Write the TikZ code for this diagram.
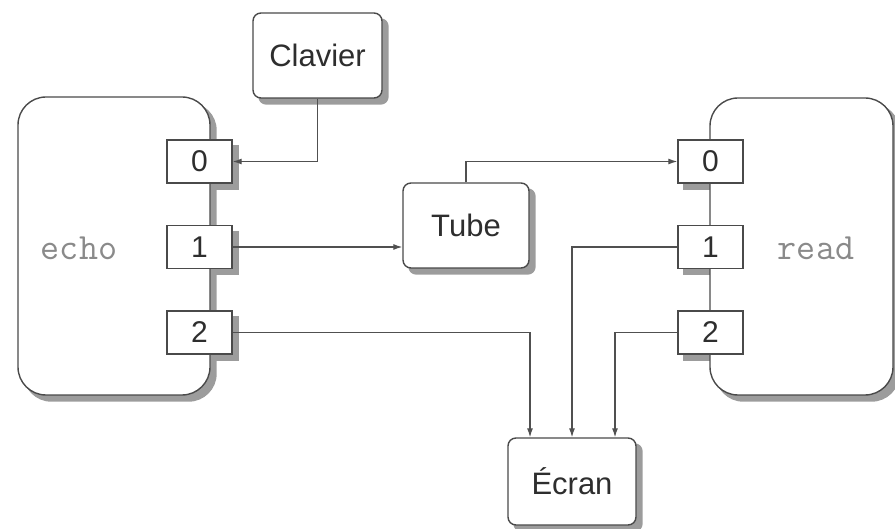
\documentclass[tikz,border=0pt]{standalone}
\usepackage{fontspec}
\setmainfont{Liberation Sans}
\usetikzlibrary{arrows.meta,calc}
\pgfdeclarelayer{shadowlayer}
\pgfdeclarelayer{proclayer}
\pgfsetlayers{shadowlayer,proclayer,main}
\definecolor{bordc}{HTML}{4A4A4A}
\definecolor{linec}{HTML}{505050}
\definecolor{shadc}{HTML}{9C9C9C}
\definecolor{txtc}{HTML}{2E2E2E}
\definecolor{monoc}{HTML}{8A8A8A}
\newcommand\myshadow[2]{\fill[shadc, rounded corners=#2] ([shift={(6pt,-6pt)}]#1.south west) rectangle ([shift={(6pt,-6pt)}]#1.north east);}
\tikzset{
  procbox/.style={draw=bordc, line width=1.4pt, fill=white, rounded corners=28pt, inner sep=0pt},
  portbox/.style={draw=bordc, line width=1.4pt, fill=white, minimum width=65pt, minimum height=43pt, inner sep=0pt, font=\fontsize{30}{36}\selectfont, text=txtc},
  devbox/.style={draw=bordc, line width=1.4pt, fill=white, rounded corners=8pt, inner sep=0pt, font=\fontsize{31}{36}\selectfont, text=txtc},
  monolbl/.style={font=\ttfamily\fontsize{37}{40}\selectfont, text=monoc, inner sep=0pt},
  conn/.style={draw=linec, line width=1.1pt, -{Latex[length=9pt,width=6pt]}}
}
\begin{document}
\begin{tikzpicture}[x=1pt,y=-1pt]
\useasboundingbox (0,0) rectangle (895,529);
\begin{pgfonlayer}{proclayer}
\node[procbox, minimum width=192pt, minimum height=298pt] (echo) at (114,246) {};
\node[procbox, minimum width=183pt, minimum height=297pt] (read) at (801.5,246.5) {};
\end{pgfonlayer}
\node[monolbl] (echolbl) at (79,248) {echo};
\node[monolbl] (readlbl) at (816,248) {read};
\node[portbox] (e0) at (199.5,161.5) {0};
\node[portbox] (e1) at (199.5,247) {1};
\node[portbox] (e2) at (199.5,332.5) {2};
\node[portbox] (r0) at (710.5,161.5) {0};
\node[portbox] (r1) at (710.5,247) {1};
\node[portbox] (r2) at (710.5,332.5) {2};
\node[devbox, minimum width=129pt, minimum height=85pt] (clav) at (317.5,55.5) {Clavier};
\node[devbox, minimum width=126pt, minimum height=85pt] (tube) at (466,225.5) {Tube};
\node[devbox, minimum width=128pt, minimum height=87pt] (ecran) at (572,481.5) {Écran};
\begin{pgfonlayer}{shadowlayer}
\myshadow{echo}{28pt}
\myshadow{read}{28pt}
\myshadow{e0}{0pt}
\myshadow{e1}{0pt}
\myshadow{e2}{0pt}
\myshadow{r0}{0pt}
\myshadow{r1}{0pt}
\myshadow{r2}{0pt}
\myshadow{clav}{8pt}
\myshadow{tube}{8pt}
\myshadow{ecran}{8pt}
\end{pgfonlayer}
\draw[conn] (clav.south) |- (e0.east);
\draw[conn] (e1.east) -- (e1.east -| tube.west);
\draw[conn] (tube.north) |- (r0.west);
\draw[conn] (e2.east) -| ([xshift=-42pt]ecran.north);
\draw[conn] (r1.west) -| (ecran.north);
\draw[conn] (r2.west) -| ([xshift=43pt]ecran.north);
\end{tikzpicture}
\end{document}
